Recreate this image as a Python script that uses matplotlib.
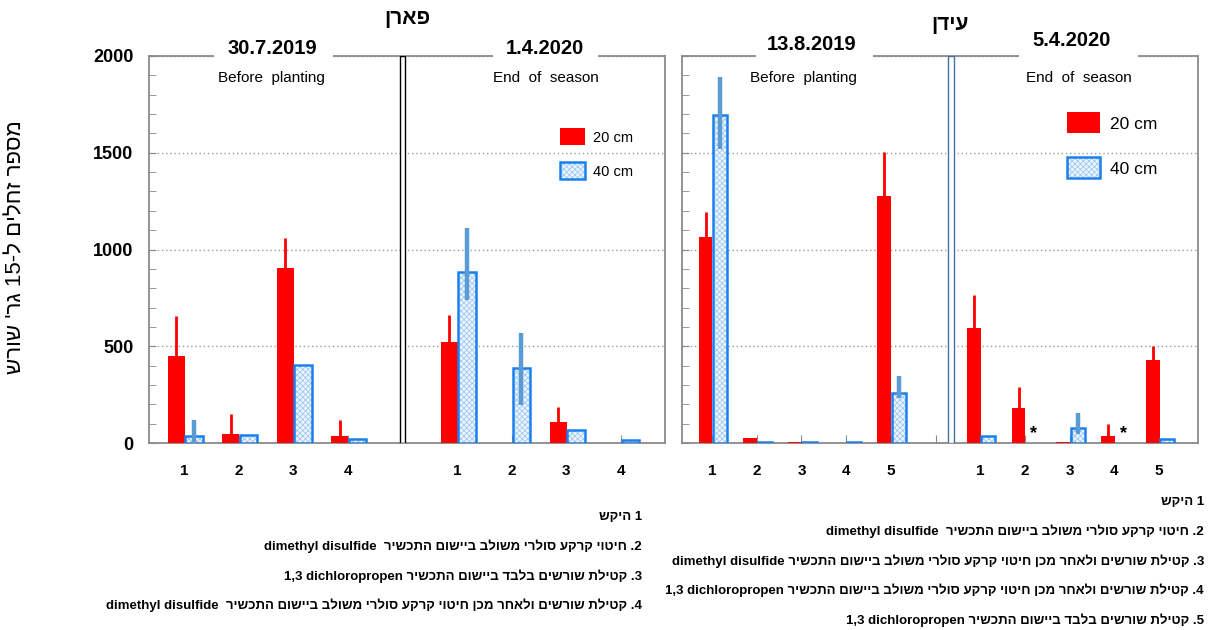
import re
import numpy as np
import matplotlib
matplotlib.use('Agg')
import matplotlib.pyplot as plt
from matplotlib.patches import Rectangle
from matplotlib.ticker import MultipleLocator

plt.rcParams['font.family'] = ['Liberation Sans', 'DejaVu Sans']
plt.rcParams['hatch.linewidth'] = 0.6

W, H = 1212, 630

# ---- data: nematodes per 15 g root, 20 cm (red) and 40 cm (blue) depth ----
paran_title = 'פארן'
paran_dates = ['30.7.2019', '1.4.2020']
paran_cats = ['1', '2', '3', '4']
paran_20 = [[450, 46, 905, 36], [520, 0, 110, 0]]
paran_20_err = [[207, 102, 155, 85], [140, 0, 75, 0]]
paran_40 = [[34, 41, 405, 21], [886, 388, 69, 15]]
paran_40_lo = [[34, 0, 0, 0], [147, 192, 0, 0]]
paran_40_hi = [[87, 0, 0, 0], [226, 181, 0, 0]]

eden_title = 'עידן'
eden_dates = ['13.8.2019', '5.4.2020']
eden_cats = ['1', '2', '3', '4', '5']
eden_20 = [[1065, 26, 5, 0, 1274], [595, 179, 4, 37, 429]]
eden_20_err = [[129, 0, 0, 0, 229], [170, 111, 0, 60, 73]]
eden_40 = [[1696, 4, 5, 4, 257], [37, 0, 79, 0, 19]]
eden_40_lo = [[177, 0, 0, 0, 27], [0, 0, 35, 0, 0]]
eden_40_hi = [[195, 0, 0, 0, 89], [0, 0, 74, 0, 0]]
eden_stars = [[], [1, 3]]

stages = ['Before  planting', 'End  of  season']
ylabel = "מספר זחלים ל-15 גר' שורש"

paran_notes = [
    '1 היקש',
    '2. חיטוי קרקע סולרי משולב ביישום התכשיר  dimethyl disulfide',
    '3. קטילת שורשים בלבד ביישום התכשיר 1,3 dichloropropen',
    '4. קטילת שורשים ולאחר מכן חיטוי קרקע סולרי משולב ביישום התכשיר  dimethyl disulfide',
]
eden_notes = [
    '1 היקש',
    '2. חיטוי קרקע סולרי משולב ביישום התכשיר  dimethyl disulfide',
    '3. קטילת שורשים ולאחר מכן חיטוי קרקע סולרי משולב ביישום התכשיר dimethyl disulfide',
    '4. קטילת שורשים ולאחר מכן חיטוי קרקע סולרי משולב ביישום התכשיר 1,3 dichloropropen',
    '5. קטילת שורשים בלבד ביישום התכשיר 1,3 dichloropropen',
]

RED = '#ff0000'
BLUE_EDGE = '#1a80f0'
BLUE_FACE = '#eef5fd'
BLUE_HATCH = '#9ec9f4'
ERR_BLUE = '#5b9bd5'
SPINE = '#8a8a8a'


def rtl(s):
    # put hebrew text in display order, latin words and numbers stay left-to-right
    parts = re.split(r'([A-Za-z0-9][A-Za-z0-9,]*(?: +[A-Za-z0-9][A-Za-z0-9,]*)*)', s)
    out = [p if re.match(r'[A-Za-z0-9]', p) else p[::-1] for p in parts if p]
    return ''.join(out[::-1])


def fx(x):
    return x / W


def fy(y):
    return 1 - y / H


def px_box(x0, x1, y0, y1):
    return [fx(x0), fy(y1), (x1 - x0) / W, (y1 - y0) / H]


fig = plt.figure(figsize=(W / 100, H / 100), dpi=100)
ax_l = fig.add_axes(px_box(148.6, 665, 56, 443))
ax_r = fig.add_axes(px_box(681.7, 1197.6, 56, 443))


def draw_panel(ax, cats, red, red_err, blue, blue_lo, blue_hi, xlim, div, div_color, stars):
    n = len(cats)
    ticks, labels = [], []
    for g in range(2):
        x = np.arange(n) + g * (n + 1)
        r = np.array(red[g])
        b = np.array(blue[g])
        ax.bar(x - 0.30, r, 0.31, align='edge', color=RED, linewidth=0, zorder=3)
        ax.bar(x + 0.02, b, 0.32, align='edge', facecolor=BLUE_FACE,
               edgecolor=BLUE_HATCH, hatch='xxxxxx', linewidth=0, zorder=3)
        ax.bar(x + 0.02, b, 0.32, align='edge', fill=False, edgecolor=BLUE_EDGE,
               linewidth=[1.8 if v > 0 else 0 for v in b], zorder=3)
        ax.errorbar(x - 0.145, r, yerr=[np.zeros(n), red_err[g]], fmt='none',
                    ecolor=RED, elinewidth=2, capsize=0, zorder=3)
        ax.errorbar(x + 0.18, b, yerr=[blue_lo[g], blue_hi[g]], fmt='none',
                    ecolor=ERR_BLUE, elinewidth=3.2, capsize=0, zorder=4)
        for i in stars[g]:
            ax.text(x[i] + 0.2, 4, '*', ha='center', va='bottom', fontsize=13,
                    fontweight='bold', zorder=5)
        ticks += list(x)
        labels += cats
    ticks.append(n)
    labels.append('')

    ax.add_patch(Rectangle((div[0], 0), div[1] - div[0], 2000, facecolor='white',
                           edgecolor=div_color, linewidth=1, zorder=5))

    ax.set_xlim(*xlim)
    ax.set_ylim(0, 2000)
    ax.set_xticks(ticks)
    ax.set_xticklabels(labels, fontsize=11, fontweight='bold')
    ax.set_yticks([0, 500, 1000, 1500, 2000])
    ax.yaxis.set_minor_locator(MultipleLocator(100))
    ax.tick_params(axis='x', direction='in', length=6, color=SPINE, pad=15)
    ax.tick_params(axis='y', which='both', direction='in', length=5, color=SPINE)
    ax.grid(axis='y', linestyle=(0, (1, 2)), color='#9a9a9a', linewidth=1)
    ax.set_axisbelow(True)
    for s in ax.spines.values():
        s.set_color(SPINE)
        s.set_linewidth(1.3)


draw_panel(ax_l, paran_cats, paran_20, paran_20_err, paran_40, paran_40_lo, paran_40_hi,
           (-0.648, 8.81), (3.96, 4.04), 'black', [[], []])
draw_panel(ax_r, eden_cats, eden_20, eden_20_err, eden_40, eden_40_lo, eden_40_hi,
           (-0.678, 10.86), (5.28, 5.41), '#41719c', eden_stars)

ax_l.tick_params(axis='y', labelsize=13, pad=11)
for t in ax_l.get_yticklabels():
    t.set_fontweight('bold')
ax_r.set_yticklabels([])

# location titles and sampling dates sitting on the top frame
fig.text(fx(407), fy(19), rtl(paran_title), ha='center', va='center', fontsize=15, fontweight='bold')
fig.text(fx(950), fy(24), rtl(eden_title), ha='center', va='center', fontsize=15, fontweight='bold')

date_pos = [(272.6, 48, 214, 333), (545, 48, 493, 598), (812, 44, 756, 873), (1072, 41, 1019, 1138)]
for d, (x, y, g0, g1) in zip(paran_dates + eden_dates, date_pos):
    fig.add_artist(Rectangle((fx(g0), fy(60)), (g1 - g0) / W, 6 / H, transform=fig.transFigure,
                             facecolor='white', edgecolor='none', zorder=5))
    fig.text(fx(x), fy(y), d, ha='center', va='center', fontsize=14.5, fontweight='bold', zorder=6)

for x, s in zip([271, 546, 803, 1079], stages * 2):
    fig.text(fx(x), fy(78), s, ha='center', va='center', fontsize=11)

# legends
legends = [(560, 585, 128, 145, 162, 179, 593, 10.5), (1067, 1100, 112, 133, 157, 178, 1110, 12.5)]
for x0, x1, r0, r1, b0, b1, tx, fs in legends:
    fig.add_artist(Rectangle((fx(x0), fy(r1)), (x1 - x0) / W, (r1 - r0) / H, transform=fig.transFigure,
                             facecolor=RED, edgecolor='none'))
    fig.add_artist(Rectangle((fx(x0), fy(b1)), (x1 - x0) / W, (b1 - b0) / H, transform=fig.transFigure,
                             facecolor=BLUE_FACE, edgecolor=BLUE_HATCH, hatch='xxxxxx', linewidth=0))
    fig.add_artist(Rectangle((fx(x0), fy(b1)), (x1 - x0) / W, (b1 - b0) / H, transform=fig.transFigure,
                             fill=False, edgecolor=BLUE_EDGE, linewidth=1.8))
    fig.text(fx(tx), fy((r0 + r1) / 2 + 2), '20 cm', ha='left', va='center', fontsize=fs)
    fig.text(fx(tx), fy((b0 + b1) / 2 + 2), '40 cm', ha='left', va='center', fontsize=fs)

fig.text(fx(16), fy(247), rtl(ylabel), rotation=90, ha='center', va='center', fontsize=16)

# treatment keys under each panel
for i, s in enumerate(paran_notes):
    fig.text(fx(642), fy(517 + 29.5 * i), rtl(s), ha='right', va='center', fontsize=9.5, fontweight='bold')
for i, s in enumerate(eden_notes):
    fig.text(fx(1204), fy(502 + 29.5 * i), rtl(s), ha='right', va='center', fontsize=9.5, fontweight='bold')

fig.savefig('out.png', dpi=100)
